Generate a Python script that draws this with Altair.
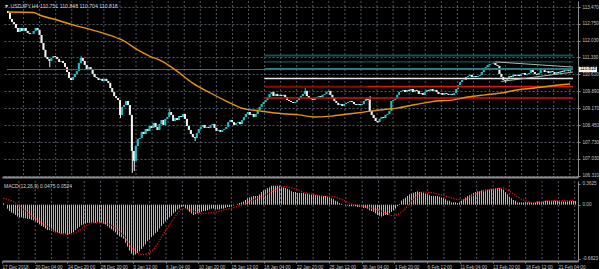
import altair as alt
import pandas as pd

# ---------------- data ----------------
first_open = 113.30
closes = [
    113.22, 112.96, 112.83, 112.75, 112.58, 112.41, 112.58, 112.45, 112.58, 112.45,
    112.37, 112.32, 112.33, 112.45, 112.58, 112.49, 112.28, 111.94, 111.65, 111.35,
    111.26, 111.18, 111.31, 111.39, 111.35, 111.26, 111.14, 111.18, 111.09, 110.92,
    110.71, 110.46, 110.37, 110.50, 110.63, 110.75, 111.09, 111.31, 111.18, 111.01,
    110.84, 110.92, 110.80, 110.63, 110.50, 110.46, 110.37, 110.42, 110.33, 110.42,
    110.33, 110.25, 110.03, 109.86, 109.69, 109.61, 109.52, 108.89, 109.23, 109.31,
    109.48, 109.31, 108.89, 107.36, 106.94, 107.57, 107.87, 107.91, 108.17, 108.08,
    108.29, 108.21, 108.42, 108.34, 108.55, 108.38, 108.25, 108.50, 108.67, 108.46,
    108.72, 108.80, 109.01, 108.89, 108.63, 108.76, 108.67, 108.84, 108.80, 108.93,
    108.72, 108.42, 108.25, 108.08, 107.95, 107.91, 108.12, 108.29, 108.38, 108.46,
    108.34, 108.38, 108.34, 108.46, 108.50, 108.34, 108.21, 108.25, 108.17, 108.25,
    108.29, 108.38, 108.59, 108.67, 108.59, 108.46, 108.55, 108.59, 108.50, 108.67,
    108.80, 108.93, 109.01, 108.89, 108.93, 108.80, 108.93, 109.10, 109.23, 109.35,
    109.44, 109.52, 109.61, 109.78, 109.86, 109.69, 109.78, 109.69, 109.74, 109.69,
    109.74, 109.65, 109.52, 109.48, 109.44, 109.40, 109.44, 109.52, 109.61, 109.69,
    109.78, 109.91, 109.69, 109.61, 109.57, 109.52, 109.61, 109.65, 109.69, 109.65,
    109.74, 109.78, 109.86, 109.91, 109.74, 109.61, 109.48, 109.40, 109.31, 109.35,
    109.27, 109.35, 109.40, 109.44, 109.48, 109.44, 109.35, 109.31, 109.35, 109.31,
    109.35, 109.48, 109.57, 109.52, 109.06, 108.89, 108.76, 108.63, 108.59, 108.72,
    108.80, 108.76, 108.89, 108.93, 109.06, 109.48, 109.52, 109.57, 109.74, 109.86,
    109.91, 109.95, 109.86, 109.95, 109.91, 109.99, 109.86, 109.95, 109.91, 109.78,
    109.82, 109.74, 109.86, 109.95, 109.91, 109.99, 109.91, 109.95, 109.86, 109.78,
    109.82, 109.74, 109.82, 109.78, 109.74, 109.78, 109.74, 109.82, 109.99, 110.16,
    110.29, 110.37, 110.38, 110.50, 110.54, 110.59, 110.50, 110.54, 110.50, 110.54,
    110.59, 110.71, 110.80, 110.92, 111.01, 111.05, 111.06, 111.09, 111.01, 110.97,
    110.63, 110.50, 110.37, 110.33, 110.46, 110.54, 110.50, 110.59, 110.54, 110.59,
    110.54, 110.63, 110.67, 110.59, 110.63, 110.67, 110.80, 110.71, 110.63, 110.59,
    110.67, 110.80, 110.84, 110.71, 110.75, 110.67, 110.75, 110.71, 110.63, 110.71,
    110.67, 110.75, 110.71, 110.80, 110.78, 110.75, 110.82,
]
wick_high_idx = [37, 82, 151, 184, 247, 286]
wick_high_val = [111.39, 109.14, 110.03, 109.69, 111.14, 110.848]
wick_low_idx = [21, 57, 63, 64, 95, 188, 253, 286]
wick_low_val = [110.92, 108.76, 106.43, 106.51, 107.78, 108.55, 110.25, 110.704]

ma_idx = [0, 13, 16, 25, 33, 41, 50, 58, 66, 72, 78, 86, 94, 103, 111, 119, 128, 136,
          142, 148, 156, 164, 173, 181, 189, 198, 206, 212, 218, 226, 234, 243, 251,
          259, 268, 276, 286]
ma_val = [113.26, 113.24, 113.13, 112.92, 112.71, 112.54, 112.32, 112.07, 111.65, 111.39,
          111.18, 110.75, 110.24, 109.82, 109.48, 109.18, 109.06, 108.97, 108.93, 108.89,
          108.80, 108.84, 108.93, 109.01, 109.10, 109.18, 109.31, 109.40, 109.48, 109.52,
          109.65, 109.74, 109.82, 109.95, 110.03, 110.12, 110.20]

macd_hist = [
    0.02, 0.00, -0.05, -0.08, -0.10, -0.11, -0.13, -0.15, -0.16, -0.16,
    -0.17, -0.17, -0.18, -0.18, -0.19, -0.20, -0.21, -0.23, -0.25, -0.27,
    -0.28, -0.30, -0.32, -0.32, -0.33, -0.34, -0.35, -0.35, -0.36, -0.37,
    -0.37, -0.37, -0.38, -0.37, -0.36, -0.35, -0.32, -0.30, -0.28, -0.26,
    -0.25, -0.24, -0.23, -0.23, -0.23, -0.23, -0.23, -0.22, -0.23, -0.23,
    -0.24, -0.25, -0.27, -0.29, -0.31, -0.33, -0.35, -0.38, -0.40, -0.41,
    -0.43, -0.48, -0.53, -0.58, -0.62, -0.64, -0.63, -0.61, -0.59, -0.56,
    -0.53, -0.50, -0.46, -0.44, -0.41, -0.39, -0.36, -0.34, -0.30, -0.27,
    -0.24, -0.21, -0.19, -0.16, -0.14, -0.11, -0.09, -0.06, -0.05, -0.03,
    -0.02, -0.04, -0.06, -0.09, -0.11, -0.13, -0.12, -0.11, -0.10, -0.09,
    -0.08, -0.08, -0.07, -0.06, -0.05, -0.05, -0.06, -0.06, -0.06, -0.05,
    -0.05, -0.04, -0.03, -0.03, -0.02, -0.01, 0.00, 0.01, 0.02, 0.03,
    0.04, 0.06, 0.08, 0.09, 0.10, 0.11, 0.11, 0.11, 0.13, 0.16,
    0.18, 0.19, 0.21, 0.22, 0.24, 0.24, 0.24, 0.24, 0.24, 0.23,
    0.22, 0.21, 0.20, 0.19, 0.17, 0.16, 0.16, 0.15, 0.15, 0.15,
    0.15, 0.14, 0.14, 0.13, 0.13, 0.13, 0.12, 0.12, 0.12, 0.11,
    0.11, 0.11, 0.10, 0.09, 0.08, 0.07, 0.05, 0.04, 0.02, 0.01,
    0.00, -0.01, -0.01, -0.02, -0.02, -0.02, -0.02, -0.03, -0.03, -0.03,
    -0.04, -0.04, -0.05, -0.07, -0.08, -0.09, -0.11, -0.13, -0.14, -0.15,
    -0.14, -0.13, -0.13, -0.11, -0.09, -0.07, -0.05, -0.02, 0.01, 0.05,
    0.07, 0.09, 0.11, 0.13, 0.14, 0.15, 0.16, 0.17, 0.16, 0.16,
    0.15, 0.14, 0.13, 0.12, 0.11, 0.11, 0.11, 0.11, 0.10, 0.09,
    0.08, 0.07, 0.05, 0.05, 0.03, 0.03, 0.03, 0.02, 0.03, 0.05,
    0.07, 0.09, 0.11, 0.12, 0.13, 0.15, 0.16, 0.17, 0.17, 0.18,
    0.18, 0.19, 0.19, 0.19, 0.20, 0.20, 0.21, 0.21, 0.21, 0.20,
    0.19, 0.16, 0.13, 0.10, 0.08, 0.06, 0.05, 0.03, 0.03, 0.03,
    0.03, 0.03, 0.03, 0.03, 0.03, 0.03, 0.03, 0.04, 0.04, 0.04,
    0.04, 0.05, 0.05, 0.05, 0.05, 0.05, 0.05, 0.05, 0.04, 0.04,
    0.04, 0.04, 0.04, 0.045, 0.045, 0.046, 0.0475,
]
sig_idx = [0, 5, 10, 15, 20, 25, 30, 35, 40, 45, 50, 55, 60, 65, 70, 75, 80, 85, 90, 95,
           100, 105, 110, 115, 120, 125, 130, 135, 140, 145, 150, 155, 160, 165, 170,
           175, 180, 185, 190, 195, 200, 205, 210, 215, 220, 225, 230, 235, 240, 245,
           250, 255, 260, 265, 270, 275, 280, 286]
sig_val = [0.08, 0.04, -0.05, -0.15, -0.24, -0.32, -0.37, -0.37, -0.29, -0.23,
           -0.23, -0.27, -0.38, -0.56, -0.63, -0.57, -0.38, -0.19, -0.05, -0.08,
           -0.11, -0.10, -0.07, -0.04, 0.00, 0.06, 0.11, 0.17, 0.23, 0.21,
           0.16, 0.13, 0.11, 0.10, 0.06, 0.00, -0.02, -0.05, -0.09, -0.14,
           -0.08, 0.07, 0.16, 0.15, 0.12, 0.08, 0.06, 0.12, 0.17, 0.20,
           0.21, 0.14, 0.06, 0.03, 0.04, 0.05, 0.05, 0.0524]

price_ticks = [113.47, 112.75, 112.03, 111.33, 110.61, 109.89, 109.17, 108.45,
               107.73, 107.03, 106.31]
macd_tick_vals = [0.268, 0.0, -0.6823]
macd_tick_text = ["0.3625", "0.00", "-0.6823"]

time_label_idx = [-0.5, 15.85, 32.2, 48.55, 64.9, 81.25, 97.6, 113.95, 130.3, 146.65,
                  163.0, 179.35, 195.7, 212.05, 228.4, 244.75, 261.1, 277.45]
time_labels = ["17 Dec 2018", "20 Dec 04:00", "24 Dec 20:00", "28 Dec 20:00",
               "3 Jan 12:00", "8 Jan 04:00", "10 Jan 20:00", "15 Jan 12:00",
               "18 Jan 04:00", "22 Jan 20:00", "25 Jan 12:00", "30 Jan 04:00",
               "1 Feb 20:00", "6 Feb 12:00", "11 Feb 04:00", "13 Feb 20:00",
               "18 Feb 12:00", "21 Feb 04:00"]
grid_idx = [7.675, 15.85, 24.025, 32.2, 40.375, 48.55, 56.725, 64.9, 73.075, 81.25,
            89.425, 97.6, 105.775, 113.95, 122.125, 130.3, 138.475, 146.65, 154.825,
            163.0, 171.175, 179.35, 187.525, 195.7, 203.875, 212.05, 220.225, 228.4,
            236.575, 244.75, 252.925, 261.1, 269.275, 277.45, 285.625]

level_price = [110.818, 111.41, 111.14, 110.85, 110.44, 110.09, 110.10, 109.61]
level_start = [-0.5, 130.5, 130.5, 130.5, 130.5, 130.5, 183.0, 130.5]
level_end = [287.5, 287.5, 287.5, 287.5, 287.5, 287.5, 287.5, 287.5]
level_color = ["#5a6470", "#0b5457", "#15696d", "#2a7d82", "#e6e6e6", "#8e0a0a",
               "#e41a1a", "#d41010"]
level_width = [1, 2, 1, 1.5, 1.5, 2, 1, 1.5]

tri_x0 = [248, 251]
tri_x1 = [287.5, 287.5]
tri_p0 = [111.14, 110.31]
tri_p1 = [110.92, 110.71]

title_main = "\u25bc USDJPY,H4  110.751 110.848 110.704 110.818"
title_macd = "MACD(12,26,9) 0.0475 0.0524"
last_price = 110.818
last_text = "110.818"

# ---------------- tables ----------------
opens = [first_open] + closes[:-1]
hi_map = dict(zip(wick_high_idx, wick_high_val))
lo_map = dict(zip(wick_low_idx, wick_low_val))
candles = pd.DataFrame({
    "i": list(range(len(closes))),
    "o": opens,
    "c": closes,
})
candles["h"] = [hi_map.get(i, max(o, c)) for i, o, c in zip(candles.i, candles.o, candles.c)]
candles["l"] = [lo_map.get(i, min(o, c)) for i, o, c in zip(candles.i, candles.o, candles.c)]
candles["dir"] = ["up" if c >= o else "down" for o, c in zip(candles.o, candles.c)]

ma_df = pd.DataFrame({"i": ma_idx, "p": ma_val})
hist_df = pd.DataFrame({"i": list(range(len(macd_hist))), "v": macd_hist, "z": 0.0})
sig_df = pd.DataFrame({"i": sig_idx, "v": sig_val})
grid_df = pd.DataFrame({"g": grid_idx})
lev_df = pd.DataFrame({"x0": level_start, "x1": level_end, "p": level_price,
                       "col": level_color, "w": level_width})
tri_df = pd.DataFrame({"x0": tri_x0, "x1": tri_x1, "p0": tri_p0, "p1": tri_p1})

FONT = "Liberation Sans"
GRID = "#4f5a66"
AXC = "#8c8c8c"
LBL = "#c4c4c4"

xscale = alt.Scale(domain=[-0.5, 287.5], nice=False, zero=False)
yscale = alt.Scale(domain=[106.255, 113.725], nice=False, zero=False)
mscale = alt.Scale(domain=[-0.7116, 0.2996], nice=False, zero=False)

x_axis_main = alt.Axis(orient="bottom", labels=False, ticks=False, grid=False,
                       domain=True, domainColor=AXC, domainWidth=2, title=None)
labels_js = "[" + ",".join("'%s'" % t for t in time_labels) + "]"
vals_js = "[" + ",".join(str(v) for v in time_label_idx) + "]"
x_axis_macd = alt.Axis(orient="bottom", values=time_label_idx,
                       labelExpr="%s[indexof(%s, datum.value)]" % (labels_js, vals_js),
                       labelAlign="left", labelBaseline="top", labelFont=FONT,
                       labelFontSize=4.6, labelColor=LBL, labelPadding=1,
                       labelFlush=False, labelOverlap=False, labelBound=False,
                       ticks=True, tickSize=2, tickColor=AXC, grid=False,
                       domain=True, domainColor=AXC, domainWidth=2, title=None)
y_axis_main = alt.Axis(orient="right", values=price_ticks, format=".3f", labelFont=FONT,
                       labelFontSize=4.6, labelColor=LBL, labelPadding=2,
                       labelBaseline="middle", labelOverlap=False, labelFlush=False,
                       ticks=True, tickSize=2, tickColor=AXC, domain=True,
                       domainColor=AXC, domainWidth=1, grid=True, gridColor=GRID,
                       gridDash=[2, 2], gridWidth=1, title=None)
macd_expr = ("['%s','%s','%s'][indexof([%s,%s,%s], datum.value)]"
             % (macd_tick_text[0], macd_tick_text[1], macd_tick_text[2],
                macd_tick_vals[0], macd_tick_vals[1], macd_tick_vals[2]))
y_axis_macd = alt.Axis(orient="right", values=macd_tick_vals, labelExpr=macd_expr,
                       labelFont=FONT, labelFontSize=4.6, labelColor=LBL,
                       labelPadding=2, labelBaseline="middle", labelOverlap=False,
                       labelFlush=False, ticks=True, tickSize=2, tickColor=AXC,
                       domain=True, domainColor=AXC, domainWidth=1, grid=False,
                       title=None)


def xm(f):
    return alt.X(f, type="quantitative", scale=xscale, axis=x_axis_main)


def xb(f):
    return alt.X(f, type="quantitative", scale=xscale, axis=x_axis_macd)


def ym(f):
    return alt.Y(f, type="quantitative", scale=yscale, axis=y_axis_main)


def yb(f):
    return alt.Y(f, type="quantitative", scale=mscale, axis=y_axis_macd)


# ---------------- main panel ----------------
vgrid_main = alt.Chart(grid_df).mark_rule(color=GRID, strokeDash=[2, 2], strokeWidth=1,
                                          xOffset=0.5).encode(x=xm("g"))
levels = alt.Chart(lev_df).mark_rule().encode(
    x=xm("x0"), x2=alt.X2("x1"), y=ym("p"),
    color=alt.Color("col:N", scale=None, legend=None),
    strokeWidth=alt.StrokeWidth("w:Q", scale=None, legend=None))
tri = alt.Chart(tri_df).mark_rule(color="#b4b4b4", strokeWidth=1).encode(
    x=xm("x0"), x2=alt.X2("x1"), y=ym("p0"), y2=alt.Y2("p1"))
cscale = alt.Scale(domain=["up", "down"], range=["#1cc4c8", "#f2f2f2"])
wicks = alt.Chart(candles).mark_rule(strokeWidth=1, xOffset=0.5).encode(
    x=xm("i"), y=ym("l"), y2=alt.Y2("h"),
    color=alt.Color("dir:N", scale=cscale, legend=None))
bodies = alt.Chart(candles).mark_bar(size=1.9).encode(
    x=xm("i"), y=ym("o"), y2=alt.Y2("c"),
    color=alt.Color("dir:N", scale=cscale, legend=None))
ma = alt.Chart(ma_df).mark_line(color="#e8940a", strokeWidth=1.4,
                                interpolate="monotone").encode(x=xm("i"), y=ym("p"))
ttl = alt.Chart(pd.DataFrame({"t": [title_main]})).mark_text(
    align="left", baseline="middle", font=FONT, fontSize=5.2, color="#d4d4d4").encode(
    x=alt.value(2), y=alt.value(5), text="t:N")
box_df = pd.DataFrame({"p": [last_price], "t": [last_text]})
pbox = alt.Chart(box_df).mark_point(shape="M-1,-0.3H1V0.3H-1Z", size=324, filled=True,
                                    color="#f4f4f4", opacity=1, strokeWidth=0).encode(
    x=alt.value(586), y=ym("p"))
ptxt = alt.Chart(box_df).mark_text(align="center", baseline="middle", font=FONT,
                                   fontSize=4.6, color="#000000").encode(
    x=alt.value(586), y=ym("p"), text="t:N")

main = alt.layer(vgrid_main, wicks, bodies, levels, tri, ma, ttl, pbox, ptxt).properties(
    width=576, height=176)

# ---------------- MACD panel ----------------
vgrid_macd = alt.Chart(grid_df).mark_rule(color=GRID, strokeDash=[2, 2], strokeWidth=1,
                                          xOffset=0.5).encode(x=xb("g"))
hist = alt.Chart(hist_df).mark_rule(color="#b8b8b8", strokeWidth=1, xOffset=0.5).encode(
    x=xb("i"), y=yb("v"), y2=alt.Y2("z"))
sig = alt.Chart(sig_df).mark_line(color="#e01010", strokeWidth=1.3, strokeDash=[1.3, 1.3],
                                  interpolate="monotone").encode(x=xb("i"), y=yb("v"))
mttl = alt.Chart(pd.DataFrame({"t": [title_macd]})).mark_text(
    align="left", baseline="middle", font=FONT, fontSize=5, color="#d4d4d4").encode(
    x=alt.value(2), y=alt.value(5), text="t:N")
macd = alt.layer(vgrid_macd, hist, sig, mttl).properties(width=576, height=80)

chart = alt.vconcat(main, macd, spacing=2).properties(
    padding={"left": 0, "top": 0, "right": 0, "bottom": 0},
    background="#000000",
).configure_view(stroke=None)

chart.save("out.html", embed_options={"renderer": "svg", "actions": False})
